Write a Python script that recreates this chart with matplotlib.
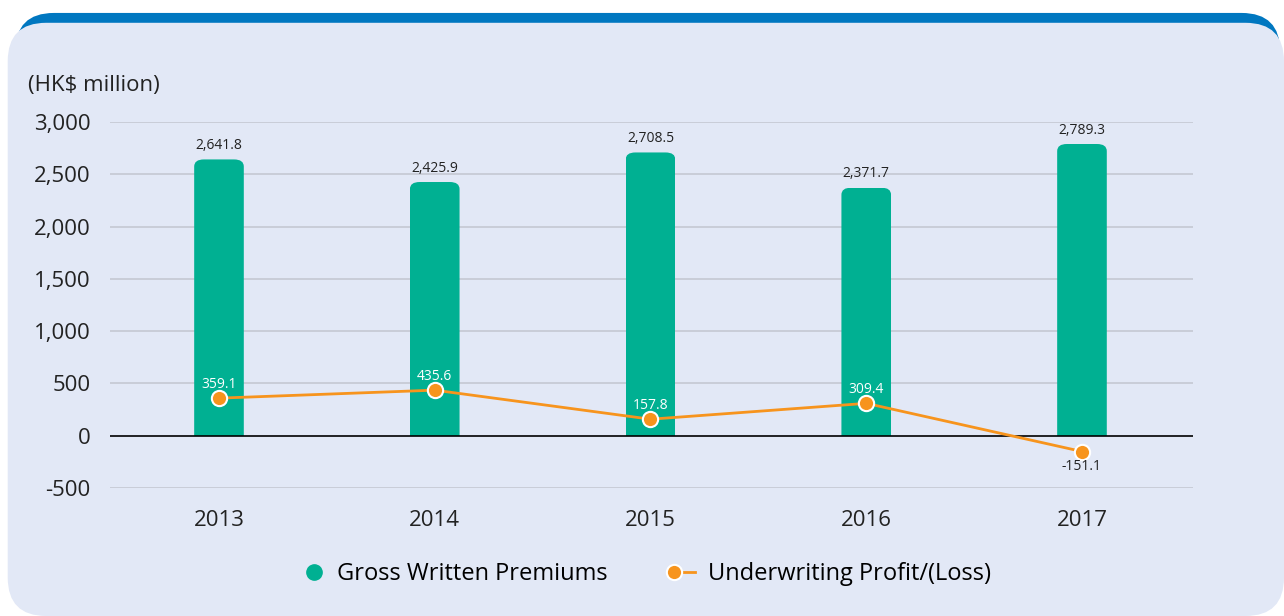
import matplotlib.pyplot as plt
from matplotlib.patches import FancyBboxPatch
from matplotlib.lines import Line2D
from matplotlib.legend_handler import HandlerLine2D

years = ['2013', '2014', '2015', '2016', '2017']
premiums = [2641.8, 2425.9, 2708.5, 2371.7, 2789.3]
profit = [359.1, 435.6, 157.8, 309.4, -151.1]
yticks = [-500, 0, 500, 1000, 1500, 2000, 2500, 3000]

plt.rcParams['font.family'] = ['Open Sans', 'DejaVu Sans']


class MarkerLeft(HandlerLine2D):
    # circle on the left, line running out to the right
    def create_artists(self, legend, orig_handle, xdescent, ydescent, width, height, fontsize, trans):
        y = (height - ydescent) / 2
        mx = -xdescent + width * 0.1
        line = Line2D([mx, width - xdescent - 3], [y, y])
        self.update_prop(line, orig_handle, legend)
        line.set_marker('None')
        line.set_transform(trans)
        marker = Line2D([mx], [y])
        self.update_prop(marker, orig_handle, legend)
        marker.set_linestyle('None')
        marker.set_transform(trans)
        return [line, marker]


fig = plt.figure(figsize=(12.84, 6.16), dpi=100)
fig.patch.set_facecolor('white')

# card background with blue top band
band = FancyBboxPatch((0.012, 0.5), 0.985, 0.479, boxstyle='round,pad=0,rounding_size=0.03',
                      transform=fig.transFigure, facecolor='#0077C0', edgecolor='none',
                      mutation_aspect=1284/616, zorder=-2)
card = FancyBboxPatch((0.006, 0.0), 0.994, 0.963, boxstyle='round,pad=0,rounding_size=0.03',
                      transform=fig.transFigure, facecolor='#E2E8F6', edgecolor='none',
                      mutation_aspect=1284/616, zorder=-1)
fig.patches.extend([band, card])

ax = fig.add_axes([0.0857, 0.2078, 0.8435, 0.5942])
ax.set_facecolor('none')
x = range(len(years))
bw = 0.23

bars = ax.bar(x, premiums, width=bw, color='#00B092', edgecolor='none', zorder=2)
for b in bars:
    bx, w, h = b.get_x(), b.get_width(), b.get_height()
    clip = FancyBboxPatch((bx, -300), w, h + 300, boxstyle='round,pad=0,rounding_size=0.045',
                          mutation_aspect=1500, transform=ax.transData)
    b.set_clip_path(clip)
    ax.text(bx + w / 2, h + 60, f'{h:,.1f}', ha='center', va='bottom',
            fontsize=10, color='#222222')

ax.plot(x, profit, color='#F7941D', lw=2, marker='o', ms=11, mfc='#F7941D',
        mec='white', mew=1.5, zorder=4)
for i, v in enumerate(profit):
    if v >= 0:
        ax.text(i, v + 60, f'{v:,.1f}', ha='center', va='bottom', fontsize=10, color='white', zorder=5)
    else:
        ax.text(i, v - 75, f'{v:,.1f}', ha='center', va='top', fontsize=10, color='#222222', zorder=5)

ax.set_xlim(-0.505, 4.515)
ax.set_ylim(-500, 3000)
ax.set_yticks(yticks)
ax.set_yticklabels([f'{t:,}' for t in yticks], fontsize=16, color='#222222')
ax.set_xticks(list(x))
ax.set_xticklabels(years, fontsize=16, color='#222222')
ax.tick_params(length=0, pad=14)
ax.tick_params(axis='x', pad=16)
for t in yticks:
    if t == 0:
        ax.axhline(0, color='black', lw=1.2, zorder=3)
    else:
        ax.axhline(t, color='#C5C8D2', lw=1.2, zorder=1)
for s in ax.spines.values():
    s.set_visible(False)

fig.text(0.022, 0.862, '(HK$ million)', fontsize=16, color='#222222', va='center')

h_bar = Line2D([], [], ls='none', marker='o', ms=11, color='#00B092')
h_line = Line2D([], [], color='#F7941D', lw=2, marker='o', ms=11, mfc='#F7941D', mec='white', mew=1.5)
fig.legend([h_bar, h_line], ['Gross Written Premiums', 'Underwriting Profit/(Loss)'],
           loc='center', bbox_to_anchor=(0.503, 0.068), ncol=2, frameon=False,
           fontsize=17, handlelength=1.15, columnspacing=2.7, handletextpad=0.4,
           handler_map={h_line: MarkerLeft()})

fig.savefig('out.png', dpi=100, facecolor='white')
